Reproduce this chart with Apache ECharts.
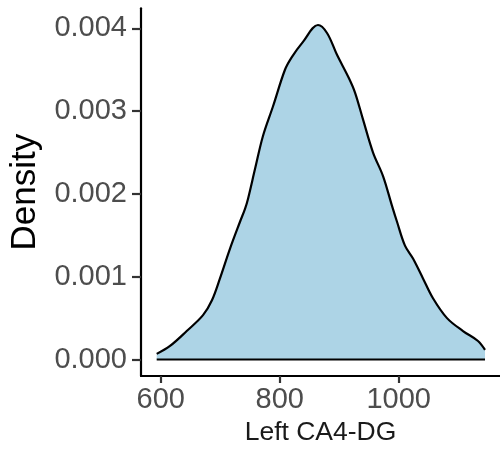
<!DOCTYPE html>
<html>
<head>
<meta charset="utf-8">
<script src="https://cdn.jsdelivr.net/npm/echarts@6/dist/echarts.min.js"></script>
<style>html,body{margin:0;padding:0;background:#fff}#chart{width:500px;height:451px}</style>
</head>
<body>
<div id="chart"></div>
<script>
// Density curve (x: Left CA4-DG, y: density)
const xs = [593.1, 615.5, 643.6, 671.0, 686.0, 699.5, 716.4, 733.2, 741.6, 746.6, 758.4, 771.8, 788.6, 808.8, 820.6, 839.1, 864.3, 879.5, 896.3, 916.2, 926.6, 940.0, 956.9, 973.7, 988.8, 997.2, 1010.6, 1024.1, 1040.9, 1057.7, 1081.3, 1108.2, 1133.4, 1145.2];
const ys = [0.000068, 0.000164, 0.000344, 0.000536, 0.000716, 0.00098, 0.00134, 0.001664, 0.00182, 0.00194, 0.0023, 0.0027, 0.003056, 0.0035, 0.003656, 0.003836, 0.00404, 0.003944, 0.00368, 0.0034, 0.003224, 0.0029, 0.0025, 0.002216, 0.001856, 0.001664, 0.001376, 0.00122, 0.00098, 0.00074, 0.0005, 0.000344, 0.000224, 0.000116];
const xTicks = [600, 800, 1000];
const yTicks = [0, 0.001, 0.002, 0.003, 0.004];
const xTitle = 'Left CA4-DG';
const yTitle = 'Density';

const curve = xs.map((x, i) => [x, ys[i]]);
const baseline = [[xs[0], 0], [xs[xs.length - 1], 0]];

const chart = echarts.init(document.getElementById('chart'), null, {renderer: 'canvas'});
const font = "'Liberation Sans', Arial, sans-serif";
chart.setOption({
  animation: false,
  backgroundColor: '#ffffff',
  grid: {left: 141, right: 0, top: 8.3, bottom: 72.7, containLabel: false},
  xAxis: {
    type: 'value', min: 566.7, max: 1170.4,
    name: xTitle, nameLocation: 'middle', nameGap: 43,
    nameTextStyle: {fontFamily: font, fontSize: 26.5, color: '#1a1a1a'},
    axisLine: {show: true, onZero: false, lineStyle: {color: '#000', width: 2.2}},
    axisTick: {show: true, length: 7, customValues: xTicks, lineStyle: {color: '#333', width: 2.2}},
    axisLabel: {customValues: xTicks, margin: 9, fontFamily: font, fontSize: 29, color: '#4D4D4D',
      formatter: v => String(v)},
    splitLine: {show: false}
  },
  yAxis: {
    type: 'value', min: -0.000199, max: 0.004242,
    name: yTitle, nameLocation: 'middle', nameGap: 98, nameRotate: 90,
    nameTextStyle: {fontFamily: font, fontSize: 35, color: '#000'},
    axisLine: {show: true, onZero: false, lineStyle: {color: '#000', width: 2.2}},
    axisTick: {show: true, length: 9, customValues: yTicks, lineStyle: {color: '#333', width: 2.2}},
    axisLabel: {customValues: yTicks, margin: 14, fontFamily: font, fontSize: 29, color: '#4D4D4D',
      formatter: v => v.toFixed(3)},
    splitLine: {show: false}
  },
  series: [
    {
      type: 'line', data: curve, smooth: 0.35, symbol: 'none',
      lineStyle: {color: '#000', width: 2.2},
      areaStyle: {color: '#ADD4E6', opacity: 1, origin: 0},
      z: 2
    },
    {
      type: 'line', data: baseline, symbol: 'none',
      lineStyle: {color: '#000', width: 2.2}, z: 3
    }
  ]
});
</script>
</body>
</html>
